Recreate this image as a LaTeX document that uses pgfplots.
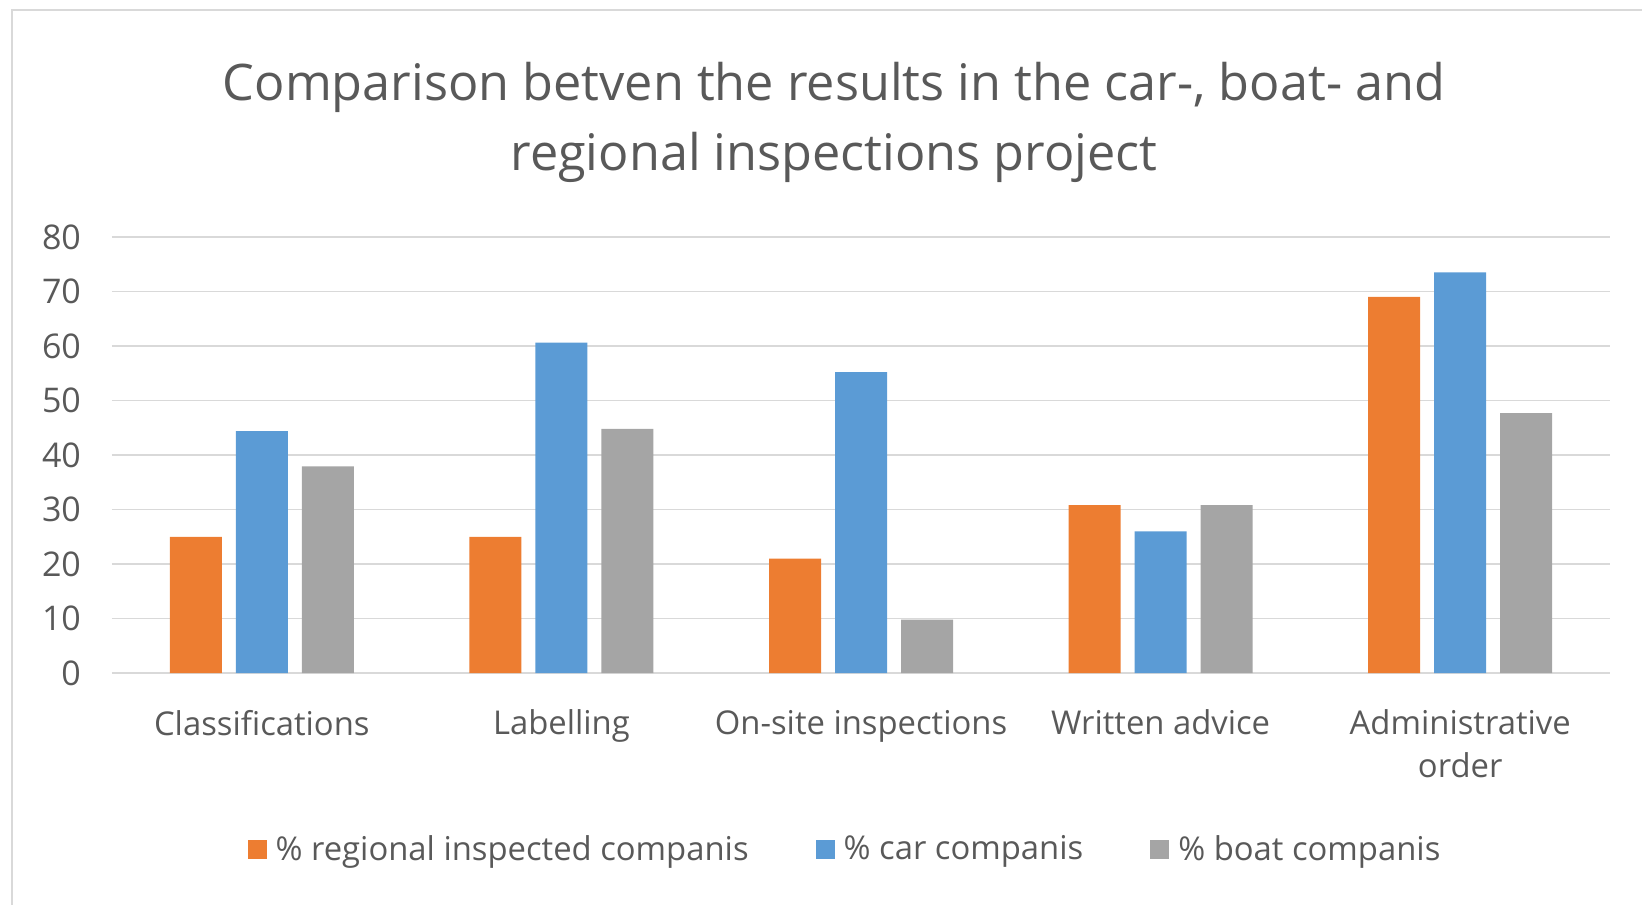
\documentclass[border=0pt]{standalone}
\usepackage{pgfplots}
\pgfplotsset{compat=1.18}
\usetikzlibrary{calc}
\usepackage{fontspec}
\setmainfont{Open Sans}
\definecolor{cor}{HTML}{ED7D31}
\definecolor{cbl}{HTML}{5B9BD5}
\definecolor{cgr}{HTML}{A5A5A5}
\definecolor{ctx}{HTML}{595959}
\definecolor{cgrid}{HTML}{D9D9D9}
\definecolor{cframe}{HTML}{D9D9D9}
\begin{document}
\begin{tikzpicture}[x=1pt,y=1pt]
\begin{axis}[
  width=749pt, height=218pt, scale only axis,
  xmin=-0.5, xmax=4.5, ymin=0, ymax=80,
  ytick={0,10,...,80},
  xtick={0,1,2,3,4},
  xticklabels={Classifications, Labelling, On-site inspections, Written advice, {Administrative\\order}},
  ybar=7pt, bar width=26pt,
  axis line style={draw=none},
  major tick length=0pt,
  ymajorgrids, grid style={cgrid, line width=0.8pt},
  tick label style={text=ctx},
  xticklabel style={align=center, yshift=-15pt, font=\fontsize{16.4}{21.5}\selectfont},
  yticklabel style={xshift=-12pt, font=\fontsize{17}{20}\selectfont},
  /pgf/number format/assume math mode=true,
  legend style={at={(0.49,-0.404)}, anchor=center, draw=none, legend columns=3,
    font=\fontsize{16.4}{19}\selectfont, text=ctx,
    /tikz/every even column/.append style={column sep=31.5pt},
    /tikz/every odd column/.append style={column sep=2.5pt},
    nodes={inner sep=2pt}},
  legend image code/.code={\fill[#1] (0pt,-4.75pt) rectangle (9.5pt,4.75pt);},
]
\coordinate (O) at (rel axis cs:0,0);
\addplot[fill=cor, draw=none] coordinates {(0,25) (1,25) (2,21) (3,30.8) (4,69)};
\addplot[fill=cbl, draw=none] coordinates {(0,44.4) (1,60.6) (2,55.2) (3,26) (4,73.5)};
\addplot[fill=cgr, draw=none] coordinates {(0,37.9) (1,44.8) (2,9.8) (3,30.8) (4,47.7)};
\legend{\% regional inspected companis, \% car companis, \% boat companis}
\end{axis}
\coordinate (BL) at ($(O)+(-56,-115.5)$);
\pgfresetboundingbox
\path[use as bounding box] (BL) rectangle ($(BL)+(821,452)$);
\draw[color=cframe, line width=1pt] ($(BL)+(6,-5)$) -- ($(BL)+(6,447)$) -- ($(BL)+(830,447)$);
\node[text=ctx, font=\fontsize{25.2}{30}\selectfont] at ($(BL)+(417,408.5)$) {Comparison betven the results in the car-, boat- and};
\node[text=ctx, font=\fontsize{25.2}{30}\selectfont] at ($(BL)+(417,373.5)$) {regional inspections project};
\end{tikzpicture}
\end{document}
